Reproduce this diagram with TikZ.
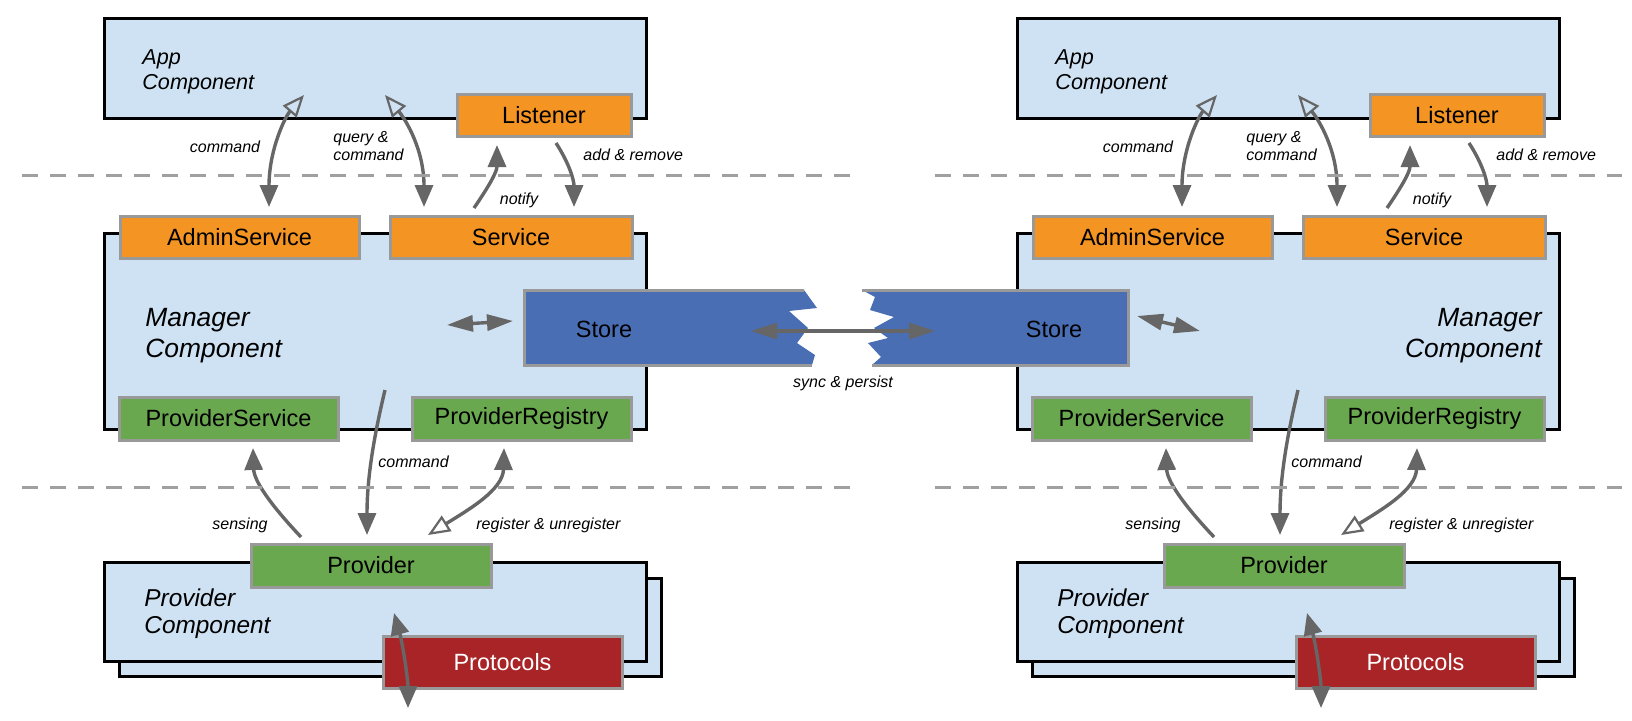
\documentclass[tikz,border=0pt]{standalone}
\usepackage{fontspec}
\setmainfont{Liberation Sans}
\usetikzlibrary{arrows.meta,fit}
\definecolor{lblue}{HTML}{CFE2F3}
\definecolor{orng}{HTML}{F39423}
\definecolor{grn}{HTML}{6AA84F}
\definecolor{redc}{HTML}{A82427}
\definecolor{stblue}{HTML}{4A6EB4}
\definecolor{bgray}{HTML}{999999}
\definecolor{agray}{HTML}{666666}
\definecolor{dgray}{HTML}{A0A0A0}
\tikzset{
 vtip/.tip={Triangle[length=11pt,width=9pt]},
 vopen/.tip={Triangle[open,length=11pt,width=9pt,line width=1.1pt]},
 htip/.tip={Triangle[length=13pt,width=8pt]},
 comp/.style={draw=black,line width=1.5pt,fill=lblue,inner sep=0pt},
 cbox/.style={draw=bgray,line width=1.5pt,inner sep=0pt},
 obox/.style={cbox,fill=orng},
 gbox/.style={cbox,fill=grn},
 rbox/.style={cbox,fill=redc},
 btext/.style={inner sep=0pt,font=\fontsize{11.75}{14}\selectfont,text=black},
 wtext/.style={btext,text=white},
 conn/.style={draw=agray,line width=1.7pt},
 lbl/.style={inner sep=0pt,font=\fontsize{8}{9.2}\selectfont\itshape},
 atext/.style={inner sep=0pt,font=\fontsize{10.8}{12}\selectfont\itshape},
 mtext/.style={inner sep=0pt,font=\fontsize{13.2}{15}\selectfont\itshape},
 ptext/.style={inner sep=0pt,font=\fontsize{12.2}{14}\selectfont\itshape},
 sep/.style={draw=dgray,line width=1.5pt,dash pattern=on 8pt off 6pt},
}
\newcommand\mypanel[1]{%
 \node[comp, fit={(104,18)(646,118)}] (#1app) {};
 \node[obox, fit={(457,94)(631,136)}] (#1lis) {};
 \node[comp, fit={(104,233)(646,429)}] (#1mgr) {};
 \node[obox, fit={(120,216)(359,258)}] (#1adm) {};
 \node[obox, fit={(390,216)(632,258)}] (#1svc) {};
 \node[gbox, fit={(119,397)(338,440)}] (#1psv) {};
 \node[gbox, fit={(412,397)(631,440)}] (#1preg) {};
 \node[comp, fit={(119,578)(661,676)}] (#1pcb) {};
 \node[comp, fit={(104,562)(646,661)}] (#1pc) {};
 \node[gbox, fit={(251,544)(491,587)}] (#1prov) {};
 \node[rbox, fit={(383,636)(622,688)}] (#1prot) {};
 \node[btext] (#1lisT) at (#1lis.center) {Listener};
 \node[btext] (#1admT) at (#1adm.center) {AdminService};
 \node[btext] (#1svcT) at (#1svc.center) {Service};
 \node[btext] (#1psvT) at (#1psv.center) {ProviderService};
 \node[btext] (#1pregT) at (#1preg.center) {ProviderRegistry};
 \node[btext] (#1provT) at (#1prov.center) {Provider};
 \node[wtext] (#1protT) at (#1prot.center) {Protocols};
 \node[atext, anchor=base west] (#1appA) at (142,64) {App};
 \node[atext, anchor=base west] (#1appB) at (142,89) {Component};
 \node[ptext, anchor=base west] (#1pcA) at (144,606) {Provider};
 \node[ptext, anchor=base west] (#1pcB) at (144,633) {Component};
 \node[lbl] (#1l1) at (225,147) {command};
 \node[lbl, align=left, anchor=west] (#1l2) at (333,146) {query \&\\command};
 \node[lbl] (#1l3) at (519,200) {notify};
 \node[lbl, anchor=west] (#1l4) at (583,155) {add \& remove};
 \node[lbl, anchor=west] (#1l5) at (378,462) {command};
 \node[lbl] (#1l6) at (240,525) {sensing};
 \node[lbl, anchor=west] (#1l7) at (476,525) {register \& unregister};
 \coordinate (#1a1) at (304,95);  \coordinate (#1a2) at (269,207);
 \coordinate (#1b1) at (385,95);  \coordinate (#1b2) at (424,207);
 \coordinate (#1c1) at (474,208); \coordinate (#1c2) at (497,145);
 \coordinate (#1d1) at (556,143); \coordinate (#1d2) at (574,207);
 \coordinate (#1e1) at (385,390); \coordinate (#1e2) at (367,535);
 \coordinate (#1f1) at (301,537); \coordinate (#1f2) at (253,448);
 \coordinate (#1g1) at (428,535); \coordinate (#1g2) at (504,448);
 \coordinate (#1h1) at (394,613); \coordinate (#1h2) at (408,708);
 \draw[conn, {vopen}-{vtip}] (#1a1) .. controls (285,117) and (269,150) .. (#1a2);
 \draw[conn, {vopen}-{vtip}] (#1b1) .. controls (406,120) and (424,150) .. (#1b2);
 \draw[conn, -{vtip}] (#1c1) .. controls (489,186) and (497,172) .. (#1c2);
 \draw[conn, -{vtip}] (#1d1) .. controls (569,163) and (574,180) .. (#1d2);
 \draw[conn, -{vtip}] (#1e1) .. controls (373,440) and (367,480) .. (#1e2);
 \draw[conn, -{vtip}] (#1f1) .. controls (268,502) and (254,480) .. (#1f2);
 \draw[conn, {vopen}-{vtip}] (#1g1) .. controls (468,510) and (503,490) .. (#1g2);
 \draw[conn, {vtip}-{vtip}] (#1h1) .. controls (403,645) and (408,680) .. (#1h2);
}
\begin{document}
\begin{tikzpicture}[x=0.5pt,y=-0.5pt]
\useasboundingbox (0,0) rectangle (1632,720);
\fill[white] (0,0) rectangle (1632,720);
\mypanel{L}
\begin{scope}[xshift=456.5pt]
\mypanel{R}
\end{scope}
% manager texts
\node[mtext, anchor=base west] (Lm1) at (145,326) {Manager};
\node[mtext, anchor=base west] (Lm2) at (145,357) {Component};
\node[mtext, anchor=base east] (Rm1) at (1542,326) {Manager};
\node[mtext, anchor=base east] (Rm2) at (1542,357) {Component};
% stores
\fill[stblue] (524,290) -- (804,290) -- (817,308) -- (789,311) -- (808,328) -- (797,343) -- (815,355) -- (812,365) -- (524,365) -- cycle;
\draw[bgray, line width=1.5pt] (804,290) -- (524,290) -- (524,365) -- (812,365);
\fill[stblue] (1128,290) -- (862,290) -- (875,297) -- (870,310) -- (894,317) -- (874,328) -- (888,338) -- (868,343) -- (881,357) -- (872,365) -- (1128,365) -- cycle;
\draw[bgray, line width=1.5pt] (862,290) -- (1128,290) -- (1128,365) -- (872,365);
\node[btext] (Ls) at (604,329) {Store};
\node[btext] (Rs) at (1054,329) {Store};
\coordinate (s1) at (447,325); \coordinate (s2) at (513,321);
\coordinate (s3) at (751,331); \coordinate (s4) at (935,331);
\coordinate (s5) at (1137,316); \coordinate (s6) at (1200,331);
\draw[conn, {htip}-{htip}] (s1) -- (s2);
\draw[conn, {htip}-{htip}] (s3) -- (s4);
\draw[conn, {htip}-{htip}] (s5) -- (s6);
\node[lbl] (sync) at (843,383) {sync \& persist};
% separators
\coordinate (d1) at (22,175);  \coordinate (d2) at (852,175);
\coordinate (d3) at (935,175); \coordinate (d4) at (1622,175);
\coordinate (d5) at (22,487);  \coordinate (d6) at (852,487);
\coordinate (d7) at (935,487); \coordinate (d8) at (1622,487);
\draw[sep] (d1) -- (d2);
\draw[sep] (d3) -- (d4);
\draw[sep] (d5) -- (d6);
\draw[sep] (d7) -- (d8);
\end{tikzpicture}
\end{document}
